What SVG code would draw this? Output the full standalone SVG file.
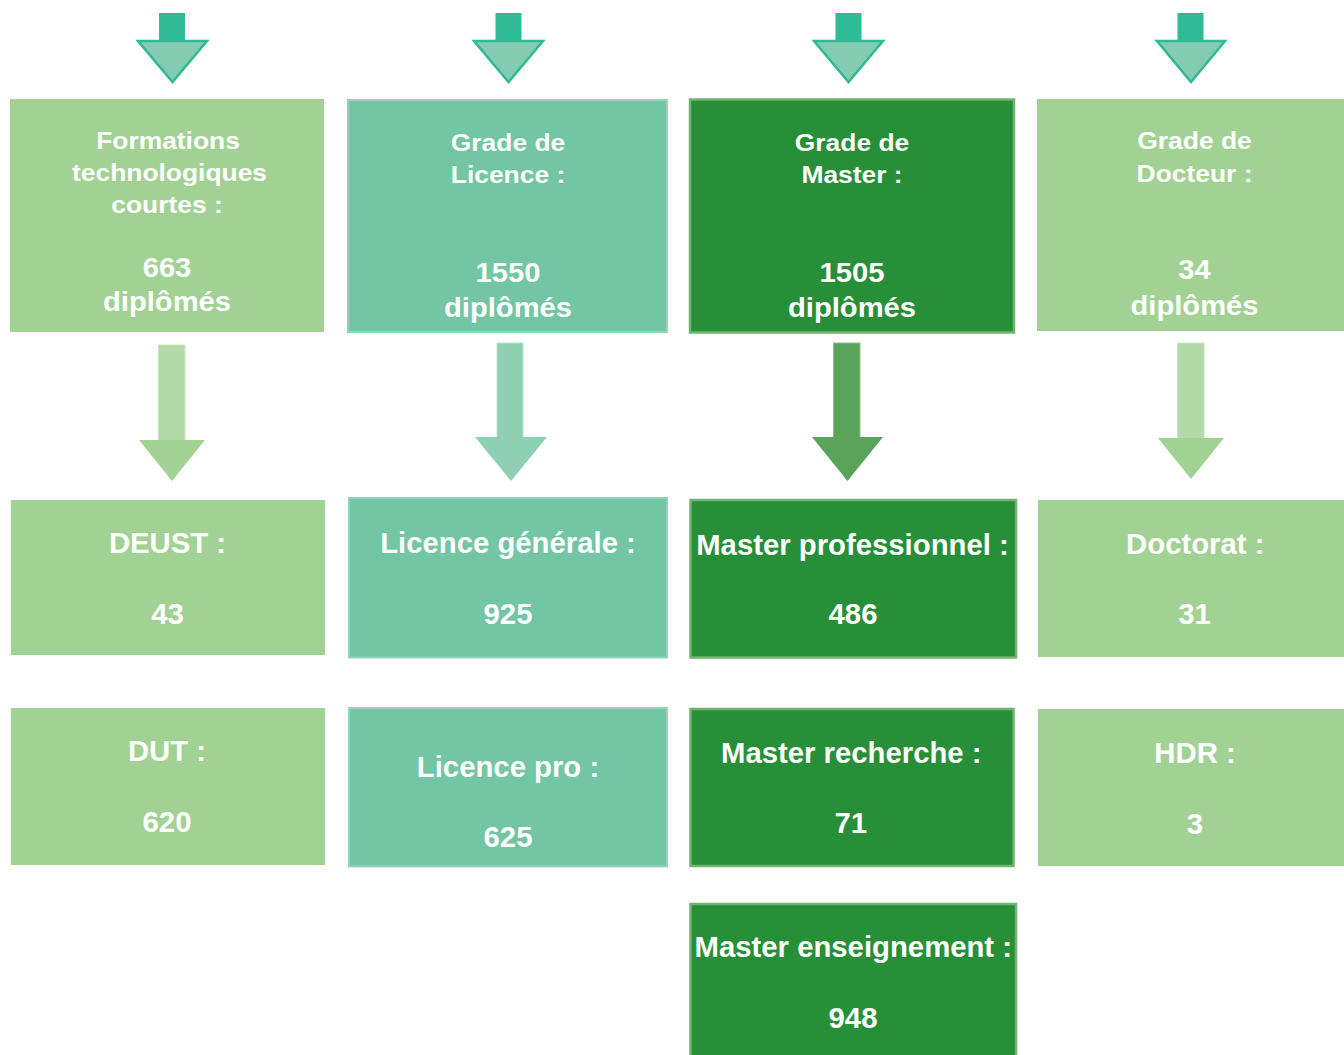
<svg xmlns="http://www.w3.org/2000/svg" width="1344" height="1055" viewBox="0 0 1344 1055">
<style>
.t{font-family:"Liberation Sans",Arial,Helvetica,sans-serif;font-weight:bold;fill:#ffffff;text-anchor:middle}
.h{font-size:24px}
.n{font-size:27px}
.s{font-size:29.3px}
.lg{fill:#a1d293}
.tl{fill:#72c6a4;stroke:#93d5ba;stroke-width:2}
.dg{fill:#268f38;stroke:#6fb46f;stroke-width:2.5}
.topShaft{fill:#2fbb94}
.topHead{fill:#83cbb1;stroke:#2fb994;stroke-width:2.5;stroke-linejoin:miter}
</style>
<rect width="1344" height="1055" fill="#ffffff"/>
<g id="connectors">
  <rect class="topShaft" x="159" y="13" width="26" height="28"/>
  <polygon class="topHead" points="138,41 207,41 172.5,82"/>
  <rect class="topShaft" x="495.5" y="13" width="26" height="28"/>
  <polygon class="topHead" points="474,41 543,41 508.5,82"/>
  <rect class="topShaft" x="835.5" y="13" width="26" height="28"/>
  <polygon class="topHead" points="814,41 883,41 848.5,82"/>
  <rect class="topShaft" x="1177.5" y="13" width="26" height="28"/>
  <polygon class="topHead" points="1157,41 1225,41 1191,82"/>
  <rect x="158.5" y="345" width="26.5" height="96" fill="#b2daa6" stroke="#c9e6c0" stroke-width="1"/>
  <polygon points="139,440 205,440 172,481" fill="#a1d293"/>
  <rect x="497" y="343" width="26" height="95" fill="#8fd0b2" stroke="#b5e1cc" stroke-width="1"/>
  <polygon points="475,437 547,437 511,481" fill="#8fd0b2"/>
  <rect x="833.5" y="343" width="26.5" height="95" fill="#5aa35a" stroke="#8cc08c" stroke-width="1"/>
  <polygon points="812,437 883,437 847.5,481" fill="#5aa35a"/>
  <rect x="1177.5" y="343" width="26.5" height="96" fill="#b2daa6" stroke="#c9e6c0" stroke-width="1"/>
  <polygon points="1158,438 1224,438 1191,479" fill="#a1d293"/>
</g>
<g id="node-formations">
  <rect class="lg" x="10" y="99" width="314" height="233"/>
  <text class="t h" transform="matrix(1.1 0 0 1 168 0)" x="0" y="149">Formations</text>
  <text class="t h" transform="matrix(1.1 0 0 1 169.5 0)" x="0" y="181.5">technologiques</text>
  <text class="t h" transform="matrix(1.1 0 0 1 167 0)" x="0" y="213.3">courtes :</text>
  <text class="t n" transform="matrix(1.08 0 0 1 167 0)" x="0" y="277.5">663</text>
  <text class="t n" transform="matrix(1.08 0 0 1 167 0)" x="0" y="311">diplômés</text>
</g>
<g id="node-licence">
  <rect class="tl" x="348" y="100" width="319" height="232"/>
  <text class="t h" transform="matrix(1.1 0 0 1 508 0)" x="0" y="151">Grade de</text>
  <text class="t h" transform="matrix(1.1 0 0 1 508 0)" x="0" y="183.3">Licence :</text>
  <text class="t n" transform="matrix(1.08 0 0 1 508 0)" x="0" y="282.3">1550</text>
  <text class="t n" transform="matrix(1.08 0 0 1 508 0)" x="0" y="316.7">diplômés</text>
</g>
<g id="node-master">
  <rect class="dg" x="690" y="99.5" width="324" height="233"/>
  <text class="t h" transform="matrix(1.1 0 0 1 852 0)" x="0" y="151">Grade de</text>
  <text class="t h" transform="matrix(1.1 0 0 1 852 0)" x="0" y="183.3">Master :</text>
  <text class="t n" transform="matrix(1.08 0 0 1 852 0)" x="0" y="282.3">1505</text>
  <text class="t n" transform="matrix(1.08 0 0 1 852 0)" x="0" y="316.7">diplômés</text>
</g>
<g id="node-docteur">
  <rect class="lg" x="1037" y="99" width="307" height="232"/>
  <text class="t h" transform="matrix(1.1 0 0 1 1194.5 0)" x="0" y="149">Grade de</text>
  <text class="t h" transform="matrix(1.1 0 0 1 1194.5 0)" x="0" y="181.7">Docteur :</text>
  <text class="t n" transform="matrix(1.08 0 0 1 1194.5 0)" x="0" y="279.3">34</text>
  <text class="t n" transform="matrix(1.08 0 0 1 1194.5 0)" x="0" y="315">diplômés</text>
</g>
<g id="node-deust">
  <rect class="lg" x="11" y="500" width="314" height="155"/>
  <text class="t s" x="167.5" y="553.3">DEUST :</text>
  <text class="t s" x="167.5" y="624">43</text>
</g>
<g id="node-dut">
  <rect class="lg" x="11" y="708" width="314" height="157"/>
  <text class="t s" x="167" y="760.7">DUT :</text>
  <text class="t s" x="167" y="831.7">620</text>
</g>
<g id="node-licence-generale">
  <rect class="tl" x="349" y="498" width="318" height="159.5"/>
  <text class="t s" x="508" y="553">Licence générale :</text>
  <text class="t s" x="508" y="624">925</text>
</g>
<g id="node-licence-pro">
  <rect class="tl" x="349" y="708" width="318" height="158.5"/>
  <text class="t s" x="508" y="777.3">Licence pro :</text>
  <text class="t s" x="508" y="847.3">625</text>
</g>
<g id="node-master-pro">
  <rect class="dg" x="690.5" y="500" width="325.5" height="157.5"/>
  <text class="t s" x="852.5" y="555">Master professionnel :</text>
  <text class="t s" x="853" y="624.3">486</text>
</g>
<g id="node-master-recherche">
  <rect class="dg" x="690.5" y="709" width="323" height="157"/>
  <text class="t s" x="851.3" y="762.7">Master recherche :</text>
  <text class="t s" x="850.8" y="833.3">71</text>
</g>
<g id="node-master-enseignement">
  <rect class="dg" x="690.5" y="904" width="325.5" height="160"/>
  <text class="t s" x="853.3" y="957.3">Master enseignement :</text>
  <text class="t s" x="853" y="1028.3">948</text>
</g>
<g id="node-doctorat">
  <rect class="lg" x="1038" y="500" width="306" height="157"/>
  <text class="t s" x="1195.3" y="553.6">Doctorat :</text>
  <text class="t s" x="1194.5" y="624">31</text>
</g>
<g id="node-hdr">
  <rect class="lg" x="1038" y="709" width="306" height="157"/>
  <text class="t s" x="1195" y="762.5">HDR :</text>
  <text class="t s" x="1195" y="833.5">3</text>
</g>
</svg>
